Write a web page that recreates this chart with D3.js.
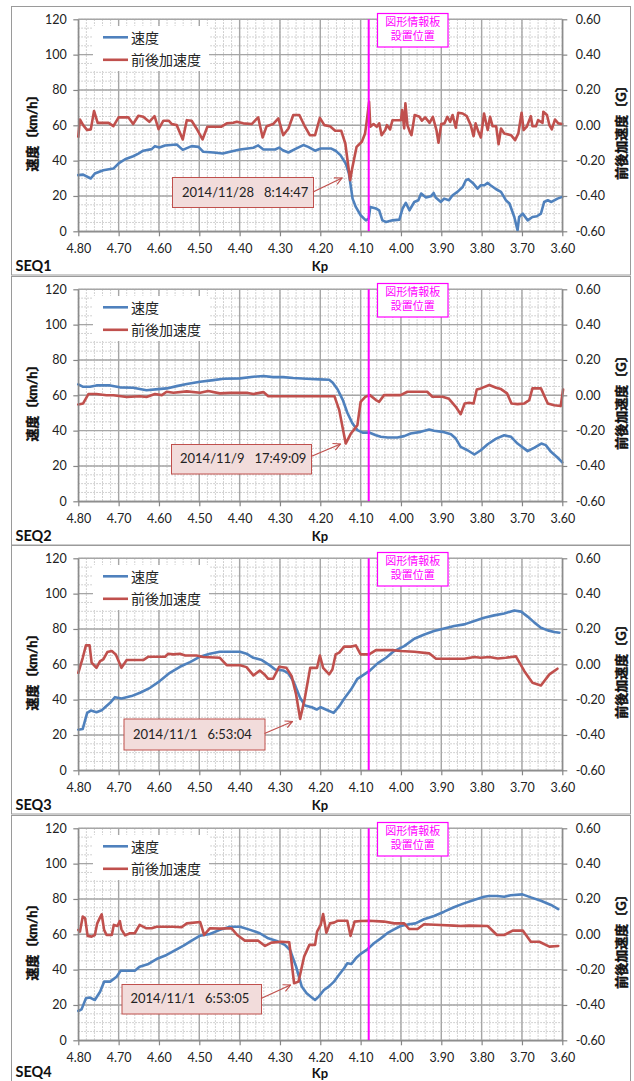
<!DOCTYPE html>
<html><head><meta charset="utf-8">
<script src="https://cdn.jsdelivr.net/npm/d3@7"></script>
<style>
body{margin:0;background:#fff;}
svg{display:block;}
text{font-family:Lato,"Noto Sans CJK JP",sans-serif;}
</style></head><body>
<script>
// ---- axis ticks ----
const kpTicks = [4.80,4.70,4.60,4.50,4.40,4.30,4.20,4.10,4.00,3.90,3.80,3.70,3.60];
const speedTicks = [0,20,40,60,80,100,120];
const accelTicks = [-0.60,-0.40,-0.20,0.00,0.20,0.40,0.60];
const signKp = 4.08; // sign board location

// ---- panel texts ----
const seqNames = ["SEQ1","SEQ2","SEQ3","SEQ4"];
const stamps = ["2014/11/28   8:14:47","2014/11/9   17:49:09","2014/11/1   6:53:04","2014/11/1   6:53:05"];
const legendNames = ["速度","前後加速度"];

// ---- series: [Kp, speed km/h] ----
const seq1Speed = [[4.800,31.8],[4.788,32.1],[4.769,29.9],[4.759,32.7],[4.738,34.6],[4.713,35.5],[4.700,38.4],[4.684,40.8],[4.664,42.5],[4.651,44.0],[4.639,45.6],[4.618,46.5],[4.610,48.2],[4.599,47.4],[4.585,48.6],[4.556,49.1],[4.541,46.1],[4.519,48.2],[4.502,47.8],[4.490,45.0],[4.465,44.6],[4.442,44.0],[4.424,45.0],[4.399,46.3],[4.366,47.3],[4.354,48.6],[4.341,46.3],[4.312,46.3],[4.302,47.4],[4.293,45.9],[4.279,44.6],[4.259,46.9],[4.242,48.8],[4.230,47.8],[4.213,45.6],[4.199,46.9],[4.174,46.9],[4.162,45.6],[4.150,43.1],[4.137,38.4],[4.129,32.7],[4.120,18.5],[4.112,13.8],[4.100,9.1],[4.087,6.2],[4.080,7.2],[4.076,13.8],[4.062,12.9],[4.054,11.9],[4.046,6.2],[4.037,5.3],[4.021,6.2],[4.004,6.6],[3.996,12.9],[3.988,16.1],[3.979,11.9],[3.967,16.6],[3.957,17.6],[3.950,21.4],[3.938,19.1],[3.926,19.8],[3.919,21.7],[3.914,19.1],[3.901,16.6],[3.893,18.5],[3.881,17.6],[3.872,20.4],[3.860,22.3],[3.847,25.1],[3.839,28.9],[3.833,29.5],[3.822,27.4],[3.810,24.2],[3.802,26.1],[3.793,26.1],[3.785,27.4],[3.778,26.1],[3.764,23.8],[3.752,22.3],[3.740,17.6],[3.731,15.7],[3.719,8.1],[3.711,0.6],[3.707,8.1],[3.698,10.0],[3.686,6.2],[3.674,8.1],[3.663,8.5],[3.653,10.0],[3.645,16.6],[3.636,17.6],[3.627,16.6],[3.612,18.5],[3.600,19.5]];
const seq2Speed = [[4.800,66.2],[4.788,64.8],[4.771,64.8],[4.755,65.6],[4.721,65.6],[4.697,64.5],[4.664,64.3],[4.631,62.9],[4.602,63.5],[4.581,63.9],[4.556,65.2],[4.531,66.4],[4.498,67.7],[4.465,68.6],[4.440,69.4],[4.399,69.6],[4.366,70.5],[4.341,70.9],[4.317,70.3],[4.292,70.3],[4.267,69.8],[4.234,69.4],[4.201,69.0],[4.178,68.8],[4.169,67.1],[4.157,63.3],[4.144,57.3],[4.133,50.1],[4.120,44.0],[4.108,40.3],[4.095,38.9],[4.079,38.9],[4.062,37.4],[4.050,36.5],[4.033,36.1],[4.009,36.1],[3.992,36.9],[3.976,38.4],[3.951,39.3],[3.930,40.6],[3.918,39.9],[3.897,39.3],[3.876,38.0],[3.864,35.5],[3.852,30.8],[3.835,28.9],[3.818,26.5],[3.802,28.9],[3.785,32.3],[3.764,35.5],[3.744,37.4],[3.727,36.5],[3.711,32.7],[3.686,28.4],[3.669,30.4],[3.652,32.7],[3.641,31.8],[3.628,28.0],[3.612,24.8],[3.600,22.0]];
const seq3Speed = [[4.800,23.0],[4.789,23.4],[4.778,32.5],[4.769,33.8],[4.755,32.9],[4.742,34.0],[4.721,38.2],[4.709,41.4],[4.693,40.6],[4.668,42.0],[4.647,43.9],[4.622,46.7],[4.598,50.5],[4.573,55.2],[4.548,58.6],[4.523,61.2],[4.498,64.3],[4.474,66.0],[4.449,67.1],[4.399,67.1],[4.383,66.0],[4.366,63.7],[4.345,62.4],[4.325,59.4],[4.312,57.1],[4.292,56.5],[4.279,54.8],[4.267,50.5],[4.250,41.0],[4.238,36.7],[4.221,35.7],[4.209,34.4],[4.199,35.7],[4.182,34.0],[4.167,32.5],[4.153,36.3],[4.141,40.5],[4.124,45.7],[4.108,51.8],[4.091,54.3],[4.079,56.1],[4.058,60.5],[4.037,63.7],[4.017,67.5],[3.992,70.3],[3.967,74.5],[3.942,76.9],[3.918,78.8],[3.893,80.3],[3.868,81.7],[3.843,82.6],[3.818,84.5],[3.794,86.4],[3.769,87.7],[3.744,88.8],[3.719,90.5],[3.702,89.8],[3.686,87.0],[3.669,83.6],[3.653,80.7],[3.636,79.2],[3.620,78.3],[3.607,77.9]];
const seq4Speed = [[4.800,16.6],[4.792,17.5],[4.781,23.8],[4.771,24.2],[4.759,22.8],[4.746,27.5],[4.736,33.2],[4.721,33.2],[4.705,36.0],[4.695,39.4],[4.660,39.4],[4.648,41.7],[4.626,43.2],[4.606,46.0],[4.581,48.3],[4.556,51.5],[4.540,53.4],[4.519,56.4],[4.498,59.2],[4.474,60.2],[4.449,62.5],[4.424,64.3],[4.399,64.3],[4.374,62.5],[4.350,60.6],[4.329,57.7],[4.308,56.2],[4.288,54.0],[4.275,51.1],[4.260,41.7],[4.246,30.4],[4.234,26.6],[4.221,24.2],[4.213,22.8],[4.204,24.7],[4.191,28.5],[4.179,30.4],[4.166,33.2],[4.154,37.0],[4.141,40.8],[4.133,43.6],[4.123,43.2],[4.112,46.4],[4.100,48.9],[4.083,51.5],[4.067,54.9],[4.050,57.7],[4.034,60.6],[4.017,62.8],[4.001,64.7],[3.980,65.7],[3.964,66.2],[3.943,68.5],[3.918,70.4],[3.893,72.8],[3.869,75.3],[3.844,77.5],[3.819,79.4],[3.794,81.3],[3.782,81.7],[3.761,81.7],[3.744,81.3],[3.728,82.1],[3.699,82.6],[3.678,80.9],[3.653,79.0],[3.628,76.6],[3.610,74.3]];

// ---- series: [Kp, longitudinal acceleration G] ----
const seq1Accel = [[4.800,-0.065],[4.796,0.033],[4.788,0.001],[4.778,-0.027],[4.769,-0.023],[4.761,0.081],[4.752,0.014],[4.725,0.014],[4.713,-0.005],[4.700,0.045],[4.676,0.045],[4.664,0.007],[4.651,0.054],[4.639,0.048],[4.624,0.020],[4.611,0.052],[4.601,-0.022],[4.589,0.026],[4.576,0.026],[4.568,0.007],[4.556,0.001],[4.541,-0.080],[4.531,0.029],[4.519,0.026],[4.507,-0.018],[4.492,-0.080],[4.480,-0.008],[4.445,-0.008],[4.432,0.011],[4.416,0.014],[4.407,0.020],[4.391,0.011],[4.370,0.007],[4.354,0.045],[4.343,-0.069],[4.333,-0.005],[4.317,0.007],[4.304,0.039],[4.292,-0.056],[4.279,-0.018],[4.267,0.058],[4.252,0.058],[4.238,-0.008],[4.226,-0.056],[4.213,-0.056],[4.201,0.042],[4.190,0.001],[4.176,-0.005],[4.163,-0.031],[4.148,-0.031],[4.138,-0.103],[4.126,-0.311],[4.121,-0.245],[4.110,-0.122],[4.097,-0.093],[4.089,-0.046],[4.085,0.020],[4.079,0.133],[4.076,-0.008],[4.068,0.007],[4.060,-0.008],[4.054,0.011],[4.048,-0.056],[4.039,-0.027],[4.035,0.001],[4.027,-0.023],[4.021,0.029],[4.011,0.029],[4.000,0.029],[3.997,0.086],[3.992,-0.018],[3.989,0.124],[3.984,0.001],[3.978,-0.037],[3.974,-0.056],[3.966,0.058],[3.954,0.048],[3.948,0.026],[3.940,0.045],[3.929,0.014],[3.921,0.048],[3.912,-0.027],[3.907,-0.099],[3.900,0.007],[3.892,0.011],[3.885,0.048],[3.878,0.020],[3.872,0.058],[3.864,-0.014],[3.858,0.071],[3.847,0.067],[3.837,0.052],[3.827,0.001],[3.820,-0.061],[3.815,0.011],[3.808,-0.037],[3.802,-0.069],[3.794,0.067],[3.785,-0.027],[3.779,0.048],[3.773,-0.005],[3.764,-0.005],[3.758,-0.107],[3.752,-0.018],[3.744,-0.046],[3.727,-0.056],[3.717,-0.084],[3.709,-0.046],[3.701,0.071],[3.696,-0.027],[3.688,-0.008],[3.678,0.052],[3.674,-0.005],[3.665,-0.005],[3.660,0.029],[3.649,0.014],[3.647,0.077],[3.638,0.058],[3.632,0.001],[3.626,-0.023],[3.618,0.033],[3.610,0.011],[3.600,0.007]];
const seq2Accel = [[4.800,-0.052],[4.788,-0.046],[4.775,0.007],[4.755,0.007],[4.730,0.000],[4.713,0.000],[4.680,-0.010],[4.647,-0.005],[4.631,-0.010],[4.610,0.007],[4.593,0.001],[4.581,0.020],[4.564,0.014],[4.531,0.022],[4.498,0.014],[4.478,0.024],[4.449,0.011],[4.424,0.014],[4.383,0.014],[4.366,0.007],[4.341,0.018],[4.329,-0.005],[4.165,-0.005],[4.153,-0.084],[4.137,-0.273],[4.124,-0.216],[4.108,-0.169],[4.100,-0.037],[4.088,-0.008],[4.077,0.001],[4.062,-0.027],[4.054,-0.037],[4.042,0.001],[4.001,0.001],[3.984,0.020],[3.935,0.020],[3.922,-0.008],[3.897,-0.008],[3.881,-0.020],[3.864,-0.065],[3.852,-0.107],[3.842,-0.046],[3.831,-0.042],[3.820,-0.046],[3.812,0.033],[3.802,0.039],[3.781,0.058],[3.764,0.043],[3.752,0.035],[3.737,0.011],[3.726,-0.046],[3.711,-0.050],[3.694,-0.046],[3.682,-0.027],[3.674,0.039],[3.653,0.039],[3.636,-0.046],[3.620,-0.056],[3.604,-0.061],[3.598,0.033]];
const seq3Accel = [[4.800,-0.048],[4.789,0.037],[4.781,0.107],[4.772,0.107],[4.767,0.009],[4.755,-0.020],[4.746,0.018],[4.738,0.028],[4.728,0.069],[4.717,0.075],[4.707,0.056],[4.693,-0.020],[4.680,0.024],[4.639,0.024],[4.626,0.043],[4.585,0.043],[4.577,0.060],[4.564,0.056],[4.548,0.060],[4.535,0.050],[4.507,0.050],[4.490,0.041],[4.449,0.037],[4.432,-0.005],[4.399,-0.005],[4.383,-0.016],[4.366,-0.063],[4.350,-0.035],[4.337,-0.061],[4.329,-0.082],[4.317,-0.082],[4.302,-0.014],[4.284,-0.020],[4.271,-0.067],[4.260,-0.171],[4.250,-0.309],[4.239,-0.199],[4.225,-0.020],[4.208,-0.020],[4.201,0.050],[4.193,-0.020],[4.178,-0.057],[4.170,-0.029],[4.162,0.056],[4.153,0.066],[4.141,0.100],[4.124,0.100],[4.112,0.107],[4.100,0.056],[4.079,0.056],[4.062,0.080],[4.021,0.080],[4.001,0.075],[3.967,0.071],[3.930,0.062],[3.913,0.031],[3.843,0.031],[3.818,0.041],[3.802,0.037],[3.781,0.041],[3.760,0.033],[3.740,0.037],[3.715,0.045],[3.694,-0.039],[3.674,-0.105],[3.653,-0.120],[3.632,-0.057],[3.612,-0.025]];
const seq4Accel = [[4.800,0.025],[4.796,0.015],[4.789,0.100],[4.783,0.090],[4.777,-0.009],[4.767,-0.013],[4.759,-0.004],[4.753,0.062],[4.746,0.096],[4.742,0.113],[4.736,0.025],[4.730,-0.004],[4.717,-0.004],[4.712,0.053],[4.703,0.047],[4.697,0.075],[4.693,0.028],[4.684,-0.006],[4.672,0.006],[4.660,0.006],[4.648,0.053],[4.631,0.034],[4.618,0.034],[4.606,0.043],[4.564,0.043],[4.544,0.040],[4.531,0.062],[4.498,0.070],[4.488,-0.004],[4.474,0.034],[4.449,0.032],[4.420,0.034],[4.406,-0.004],[4.387,-0.036],[4.354,-0.036],[4.337,-0.066],[4.321,-0.047],[4.296,-0.042],[4.277,-0.045],[4.265,-0.277],[4.254,-0.268],[4.240,-0.126],[4.227,-0.060],[4.213,-0.060],[4.208,0.015],[4.199,0.053],[4.193,0.115],[4.185,0.009],[4.176,0.062],[4.166,0.066],[4.156,0.077],[4.133,0.077],[4.125,-0.009],[4.115,0.072],[4.100,0.075],[4.079,0.077],[4.042,0.072],[4.017,0.062],[3.992,0.062],[3.980,0.030],[3.959,0.030],[3.943,0.057],[3.902,0.053],[3.869,0.049],[3.852,0.047],[3.831,0.049],[3.785,0.047],[3.762,-0.004],[3.744,-0.004],[3.723,0.021],[3.698,0.021],[3.678,-0.042],[3.657,-0.042],[3.632,-0.070],[3.610,-0.066]];

const speedSeries = [seq1Speed, seq2Speed, seq3Speed, seq4Speed];
const accelSeries = [seq1Accel, seq2Accel, seq3Accel, seq4Accel];

// ---- layout ----
const W = 634, H = 1081;
const panelTops = [0, 270, 539, 809];
const seqLift = [0, 0, 0, 3];   // last panel's footer sits a little higher so it stays on the page
const kpLift = [0, 0, 0, 1.5];
const P = {left: 78.3, right: 562.3, top: 19.3, bottom: 231.3};
// callout boxes (panel-relative) and their arrows
const callouts = [
  {x: 172, y: 177, w: 141, h: 30, tx: 182, from: [313, 192], to: [342, 178]},
  {x: 171, y: 174, w: 140, h: 29.5, tx: 180, from: [311, 186.5], to: [340.5, 174]},
  {x: 123.5, y: 179.5, w: 141, h: 31, tx: 133, from: [264.5, 194.5], to: [292.5, 182.5]},
  {x: 121.5, y: 175, w: 139.5, h: 29.5, tx: 130.5, from: [261, 189.5], to: [290.5, 176]}
];

const COL = {speed: "#4f81bd", accel: "#c0504d", sign: "#ff00ff", major: "#a6a6a6", minor: "#c4c4c4", axis: "#868686", frame: "#9a9a9a"};

const svg = d3.select("body").append("svg").attr("width", W).attr("height", H);
svg.append("rect").attr("width", W).attr("height", H).attr("fill", "#fff");

const defs = svg.append("defs");
defs.append("marker").attr("id", "arrowhead")
  .attr("viewBox", "0 0 10 10").attr("refX", 9).attr("refY", 5)
  .attr("markerWidth", 9).attr("markerHeight", 9).attr("markerUnits", "userSpaceOnUse")
  .attr("orient", "auto")
  .append("path").attr("d", "M1,1 L9,5 L1,9").attr("fill", "none")
  .attr("stroke", COL.accel).attr("stroke-width", 1.3);

const x = d3.scaleLinear().domain([4.8, 3.6]).range([P.left, P.right]);
const yL = d3.scaleLinear().domain([0, 120]).range([P.bottom, P.top]);
const yR = d3.scaleLinear().domain([-0.6, 0.6]).range([P.bottom, P.top]);

const minorKp = d3.range(0, 61).map(i => 4.8 - i * 0.02);
const minorSpeed = d3.range(0, 25).map(i => i * 5);

// bold-looking heading text (CJK face has a single weight)
function heading(sel, size) {
  return sel.style("font-size", size + "px").style("font-weight", "bold")
    .attr("fill", "#111").attr("stroke", "#111").attr("stroke-width", 0.45);
}

panelTops.forEach((top, i) => {
  const g = svg.append("g").attr("transform", `translate(0,${top})`);

  // panel frame
  g.append("rect").attr("x", 11.5).attr("y", 6.5).attr("width", 619).attr("height", 268.5)
    .attr("fill", "#fff").attr("stroke", COL.frame).attr("stroke-width", 1);

  // minor grid (dotted)
  const grid = g.append("g");
  grid.selectAll(".vmin").data(minorKp).join("line")
    .attr("x1", d => x(d)).attr("x2", d => x(d)).attr("y1", P.top).attr("y2", P.bottom)
    .attr("stroke", COL.minor).attr("stroke-width", 1).attr("stroke-dasharray", "1.5,1.5");
  grid.selectAll(".hmin").data(minorSpeed).join("line")
    .attr("x1", P.left).attr("x2", P.right).attr("y1", d => yL(d)).attr("y2", d => yL(d))
    .attr("stroke", COL.minor).attr("stroke-width", 1).attr("stroke-dasharray", "1.5,1.5");
  // major grid
  grid.selectAll(".vmaj").data(kpTicks).join("line")
    .attr("x1", d => x(d)).attr("x2", d => x(d)).attr("y1", P.top).attr("y2", P.bottom)
    .attr("stroke", COL.major).attr("stroke-width", 1.4);
  grid.selectAll(".hmaj").data(speedTicks).join("line")
    .attr("x1", P.left).attr("x2", P.right).attr("y1", d => yL(d)).attr("y2", d => yL(d))
    .attr("stroke", COL.major).attr("stroke-width", 1.4);

  // series
  const lineSpeed = d3.line().x(d => x(d[0])).y(d => yL(d[1]));
  const lineAccel = d3.line().x(d => x(d[0])).y(d => yR(d[1]));
  g.append("path").datum(speedSeries[i]).attr("d", lineSpeed)
    .attr("fill", "none").attr("stroke", COL.speed).attr("stroke-width", 2.6)
    .attr("stroke-linejoin", "round").attr("stroke-linecap", "round");
  g.append("path").datum(accelSeries[i]).attr("d", lineAccel)
    .attr("fill", "none").attr("stroke", COL.accel).attr("stroke-width", 2.6)
    .attr("stroke-linejoin", "round").attr("stroke-linecap", "round");

  // sign board position
  g.append("line").attr("x1", x(signKp)).attr("x2", x(signKp)).attr("y1", P.top).attr("y2", P.bottom)
    .attr("stroke", COL.sign).attr("stroke-width", 2);
  g.append("rect").attr("x", 377.5).attr("y", 13.5).attr("width", 70.5).attr("height", 33.5)
    .attr("fill", "#fff").attr("stroke", COL.sign).attr("stroke-width", 1.2);
  g.append("text").attr("x", 412.8).attr("y", 25.8).attr("text-anchor", "middle")
    .attr("fill", COL.sign).style("font-size", "11px").style("font-family", "'Noto Sans CJK JP'").text("図形情報板");
  g.append("text").attr("x", 412.8).attr("y", 40.3).attr("text-anchor", "middle")
    .attr("fill", COL.sign).style("font-size", "11px").style("font-family", "'Noto Sans CJK JP'").text("設置位置");

  // legend
  const lg = g.append("g");
  lg.append("rect").attr("x", 93).attr("y", 26).attr("width", 116).attr("height", 45).attr("fill", "#fff");
  [COL.speed, COL.accel].forEach((c, k) => {
    const ly = 37.3 + k * 22.5;
    lg.append("line").attr("x1", 103).attr("x2", 128).attr("y1", ly).attr("y2", ly)
      .attr("stroke", c).attr("stroke-width", 2.6);
    lg.append("text").attr("x", 131).attr("y", ly + 5.2)
      .style("font-size", "14px").style("font-family", "'Noto Sans CJK JP'").attr("fill", "#222")
      .text(legendNames[k]);
  });

  // callout with arrow
  const c = callouts[i];
  g.append("rect").attr("x", c.x + 0.5).attr("y", c.y + 0.5).attr("width", c.w).attr("height", c.h)
    .attr("fill", "#f2dcdb").attr("stroke", COL.accel).attr("stroke-width", 1);
  g.append("text").attr("x", c.tx).attr("y", c.y + c.h / 2 + 4.6)
    .style("font-size", "13px").style("white-space", "pre").attr("fill", "#222")
    .text(stamps[i]);
  g.append("line").attr("x1", c.from[0]).attr("y1", c.from[1]).attr("x2", c.to[0]).attr("y2", c.to[1])
    .attr("stroke", COL.accel).attr("stroke-width", 1.3).attr("marker-end", "url(#arrowhead)");

  // axes
  const axL = g.append("g").attr("transform", `translate(${P.left},0)`)
    .call(d3.axisLeft(yL).tickValues(speedTicks).tickFormat(d3.format("d")).tickSize(5).tickSizeOuter(0).tickPadding(6.5));
  const axR = g.append("g").attr("transform", `translate(${P.right},0)`)
    .call(d3.axisRight(yR).tickValues(accelTicks).tickFormat(d3.format(".2f")).tickSize(5).tickSizeOuter(0).tickPadding(8.4));
  const axB = g.append("g").attr("transform", `translate(0,${P.bottom})`)
    .call(d3.axisBottom(x).tickValues(kpTicks).tickFormat(d3.format(".2f")).tickSize(5).tickSizeOuter(0));
  [axL, axR, axB].forEach(a => {
    a.select(".domain").attr("stroke", COL.axis).attr("stroke-width", 1.2);
    a.selectAll(".tick line").attr("stroke", COL.axis).attr("stroke-width", 1.2);
    a.selectAll(".tick text").attr("fill", "#222").style("font-size", "12.5px").style("font-family", "Lato");
  });
  axB.selectAll(".tick text").attr("y", 22.2).attr("dy", null);
  axR.selectAll(".tick text").text(d => d3.format(".2f")(d).replace("−", "-"));

  // axis titles
  heading(g.append("text").attr("transform", "translate(37,130) rotate(-90)").attr("text-anchor", "middle"), 13)
    .text("速度〔km/h〕");
  heading(g.append("text").attr("transform", "translate(625.5,129.5) rotate(-90)").attr("text-anchor", "middle"), 13)
    .text("前後加速度〔G〕");
  g.append("text").attr("x", 320).attr("y", 270.5 - kpLift[i]).attr("text-anchor", "middle")
    .style("font-size", "13px").style("font-weight", "bold").attr("fill", "#111").text("Kp");
  g.append("text").attr("x", 15.5).attr("y", 271 - seqLift[i]).style("font-size", "14.5px").style("font-weight", "bold")
    .attr("fill", "#111").text(seqNames[i]);
});
</script></body></html>
